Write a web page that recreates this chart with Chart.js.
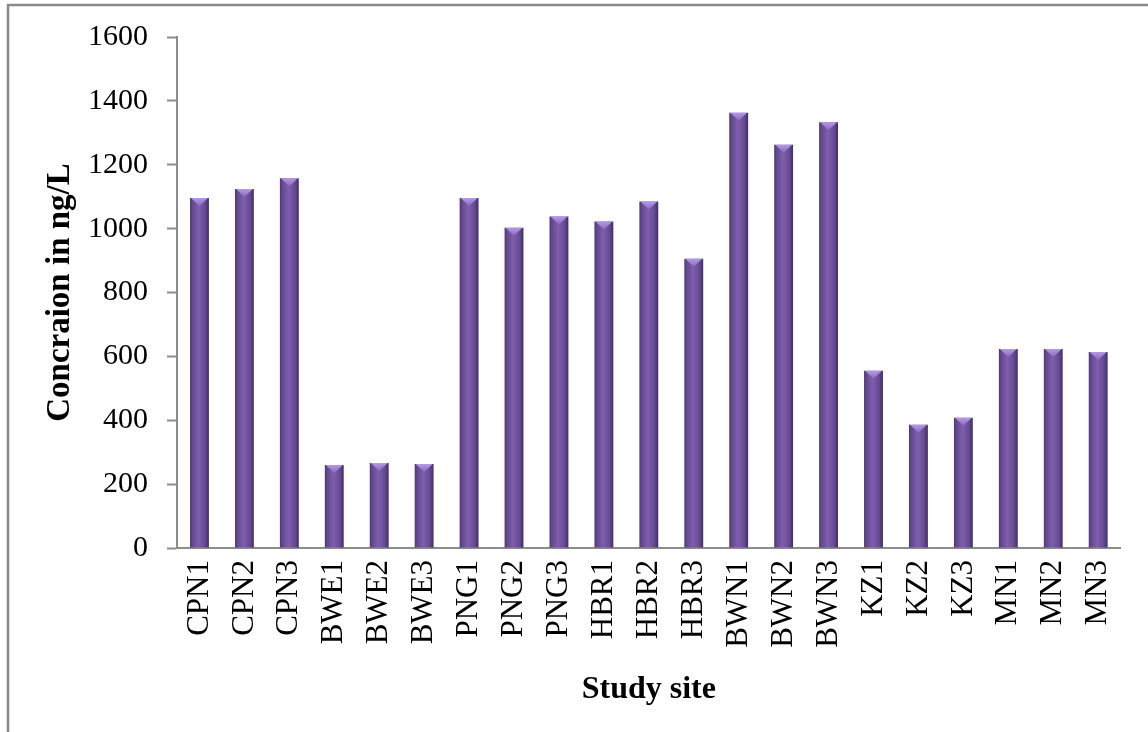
<!DOCTYPE html>
<html>
<head>
<meta charset="utf-8">
<script src="https://cdn.jsdelivr.net/npm/chart.js@4.4.1/dist/chart.umd.min.js"></script>
<style>
  html, body { margin: 0; padding: 0; background: #fff; }
  #wrap { position: relative; width: 1148px; height: 732px; }
</style>
</head>
<body>
<div id="wrap"><canvas id="chart_concentration"></canvas></div>
<script>
var sites = ['CPN1', 'CPN2', 'CPN3', 'BWE1', 'BWE2', 'BWE3', 'PNG1', 'PNG2', 'PNG3',
    'HBR1', 'HBR2', 'HBR3', 'BWN1', 'BWN2', 'BWN3', 'KZ1', 'KZ2', 'KZ3', 'MN1', 'MN2', 'MN3'];
var concentration = [1096, 1124, 1158, 260, 266, 263, 1096, 1003, 1038,
    1022, 1085, 906, 1363, 1263, 1333, 555, 386, 408, 623, 623, 614];
var yTicks = [0, 200, 400, 600, 800, 1000, 1200, 1400, 1600];

var BAR_PCT = 0.6, CAT_PCT = 0.7;

function barGradient(context) {
    var chart = context.chart;
    var xs = chart.scales.x;
    if (!xs || !chart.chartArea) return '#6b4e96';
    var cx = xs.getPixelForValue(context.dataIndex);
    var w = xs.width / sites.length * BAR_PCT * CAT_PCT;
    var g = chart.ctx.createLinearGradient(cx - w / 2, 0, cx + w / 2, 0);
    g.addColorStop(0, '#4c3672');
    g.addColorStop(0.12, '#62488d');
    g.addColorStop(0.45, '#7f5eae');
    g.addColorStop(0.8, '#664a92');
    g.addColorStop(1, '#402e60');
    return g;
}

var chart_concentration = new Chart(document.getElementById('chart_concentration'), {
    type: 'bar',
    data: {
        labels: sites,
        datasets: [
            {
                label: 'Concentration',
                data: concentration,
                backgroundColor: barGradient,
                borderWidth: 0,
                barPercentage: BAR_PCT,
                categoryPercentage: CAT_PCT
            }
        ]
    },
    options: {
        animation: false,
        responsive: true,
        maintainAspectRatio: false,
        layout: {
            padding: { left: 20, right: 26, top: 36, bottom: 0 }
        },
        plugins: {
            legend: { display: false },
            tooltip: { enabled: false }
        },
        scales: {
            x: {
                grid: { display: false, drawTicks: false },
                border: { display: true, color: '#8c8c8c', width: 2 },
                ticks: {
                    color: '#000',
                    font: { family: 'Liberation Serif', size: 31 },
                    minRotation: 90,
                    maxRotation: 90,
                    padding: 12,
                    autoSkip: false
                },
                title: {
                    display: true,
                    text: 'Study site',
                    color: '#000',
                    font: { family: 'Liberation Serif', size: 32, weight: 'bold' },
                    padding: { top: 0, bottom: 23 }
                },
                afterFit: function (scale) { scale.height = 184; }
            },
            y: {
                min: 0,
                max: 1600,
                afterBuildTicks: function (scale) {
                    scale.ticks = yTicks.map(function (v) { return { value: v }; });
                },
                grid: {
                    display: true,
                    drawOnChartArea: false,
                    drawTicks: true,
                    tickLength: 10,
                    tickWidth: 2,
                    tickColor: '#8c8c8c'
                },
                border: { display: true, color: '#8c8c8c', width: 2 },
                ticks: {
                    color: '#000',
                    font: { family: 'Liberation Serif', size: 30 },
                    padding: 19,
                    callback: function (value) { return String(value); }
                },
                title: {
                    display: true,
                    text: 'Concraion in ng/L',
                    color: '#000',
                    font: { family: 'Liberation Serif', size: 33, weight: 'bold' },
                    padding: { top: 21, bottom: 0 }
                },
                afterFit: function (scale) { scale.width = 157; }
            }
        }
    },
    plugins: [{
        id: 'frameAndBevel',
        beforeDraw: function (chart) {
            var ctx = chart.ctx;
            ctx.save();
            ctx.fillStyle = 'white';
            ctx.fillRect(0, 0, chart.width, chart.height);
            ctx.strokeStyle = '#8a8a8a';
            ctx.lineWidth = 2.5;
            ctx.beginPath();
            ctx.moveTo(8, chart.height);
            ctx.lineTo(8, 5);
            ctx.lineTo(chart.width, 5);
            ctx.stroke();
            ctx.restore();
        },
        afterDatasetsDraw: function (chart) {
            var ctx = chart.ctx;
            var meta = chart.getDatasetMeta(0);
            ctx.save();
            meta.data.forEach(function (el) {
                var half = el.width / 2;
                var g = ctx.createLinearGradient(0, el.y, 0, el.y + 8);
                g.addColorStop(0, '#b49ae4');
                g.addColorStop(1, '#8a68c0');
                ctx.fillStyle = g;
                ctx.beginPath();
                ctx.moveTo(el.x - half + 1, el.y);
                ctx.lineTo(el.x + half - 1, el.y);
                ctx.lineTo(el.x, el.y + 8);
                ctx.closePath();
                ctx.fill();
            });
            ctx.restore();
        }
    }]
});
</script>
</body>
</html>
